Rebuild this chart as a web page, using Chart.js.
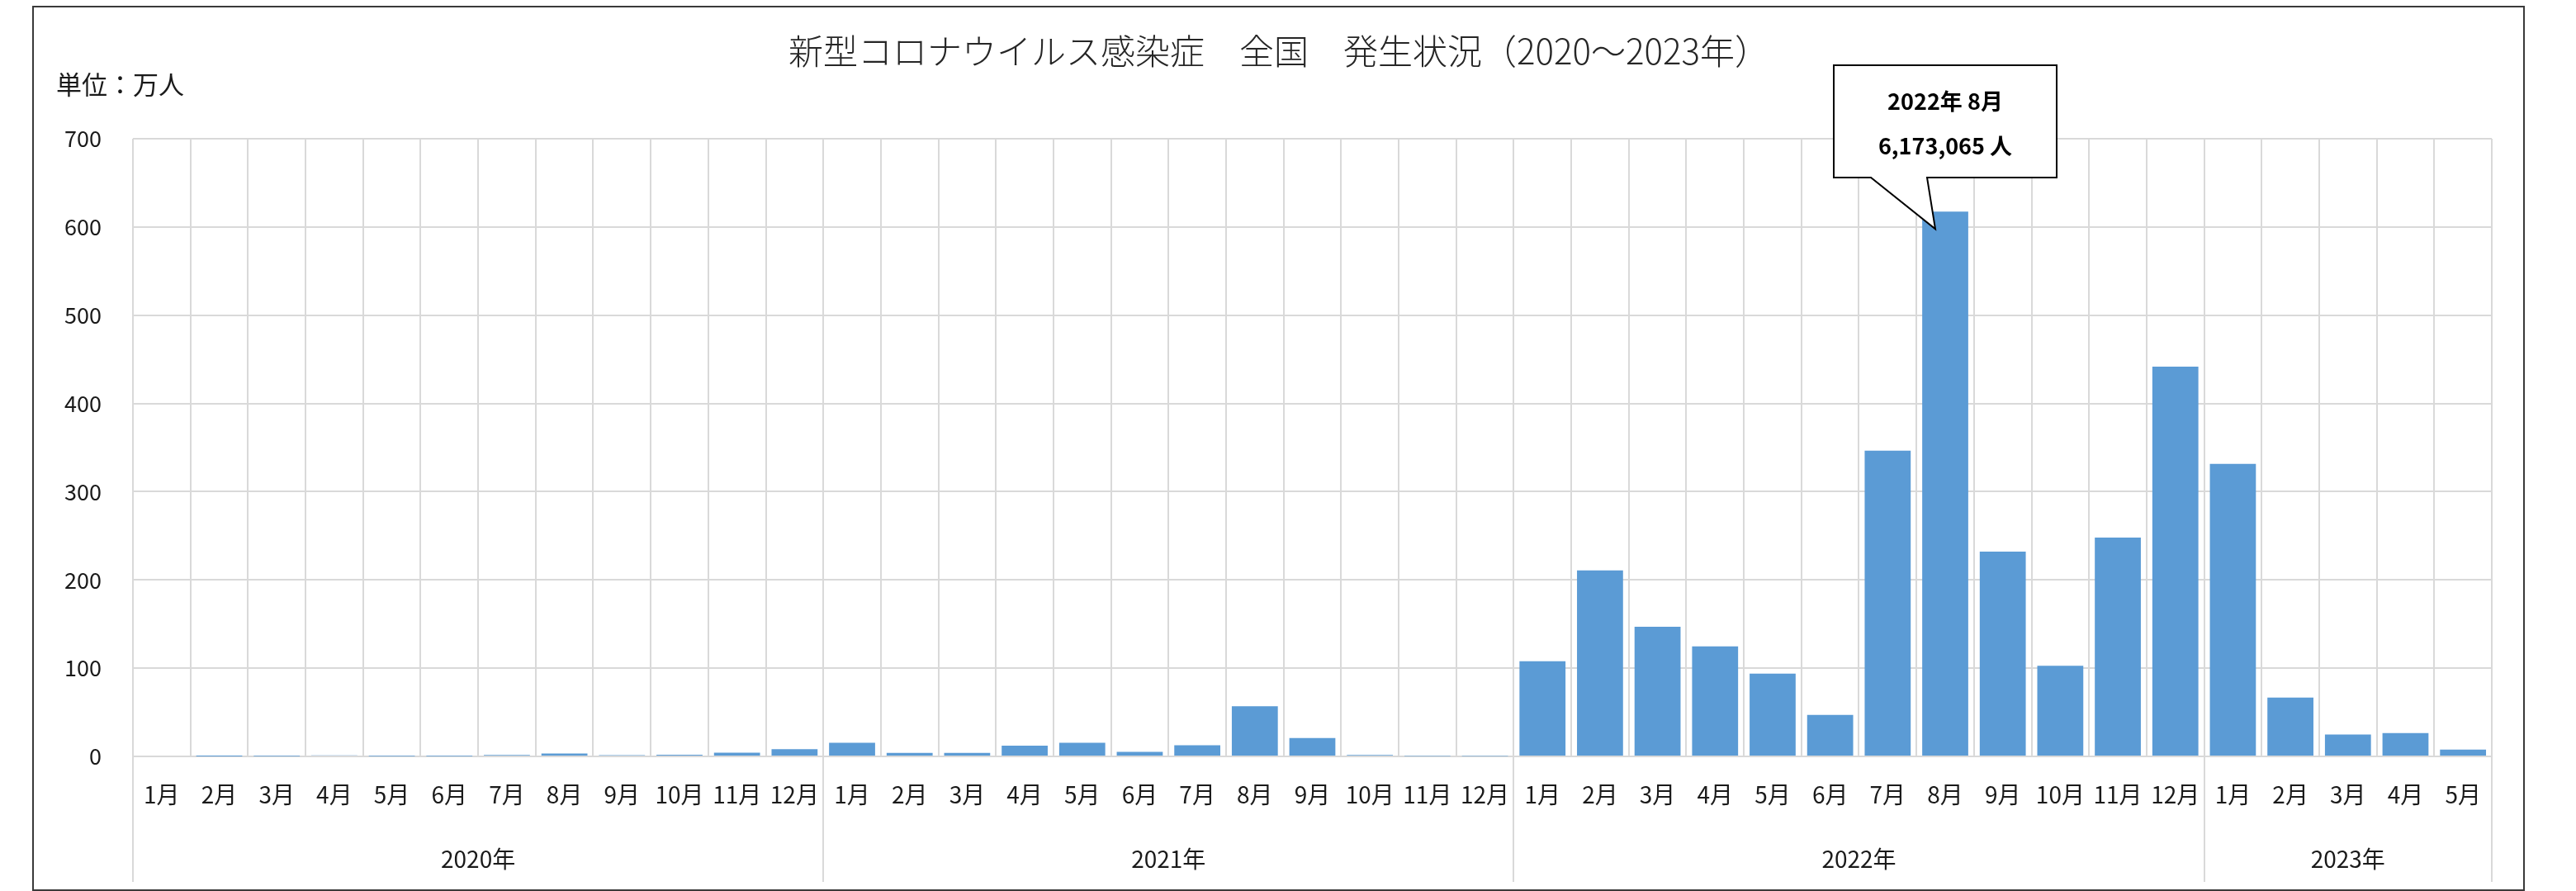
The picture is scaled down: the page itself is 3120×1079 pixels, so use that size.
<!DOCTYPE html>
<html>
<head>
<meta charset="utf-8">
<script src="https://cdn.jsdelivr.net/npm/chart.js@4.4.0/dist/chart.umd.min.js"></script>
<style>
html,body{margin:0;padding:0;background:#fff;}
#wrap{width:3120px;height:1079px;position:relative;}
canvas{display:block;}
</style>
</head>
<body>
<div id="wrap"><canvas id="c" width="3120" height="1079"></canvas></div>
<script>
// ---- data ----
const chartTitle = '新型コロナウイルス感染症　全国　発生状況（2020～2023年）';
const unitLabel = '単位：万人';
const years = ['2020年', '2021年', '2022年', '2023年'];
const months2020 = ['1月','2月','3月','4月','5月','6月','7月','8月','9月','10月','11月','12月'];
const months2021 = ['1月','2月','3月','4月','5月','6月','7月','8月','9月','10月','11月','12月'];
const months2022 = ['1月','2月','3月','4月','5月','6月','7月','8月','9月','10月','11月','12月'];
const months2023 = ['1月','2月','3月','4月','5月'];
const values2020 = [0.0, 0.02, 0.18, 1.2, 0.25, 0.17, 1.7, 3.2, 1.5, 1.8, 4.3, 8.3];
const values2021 = [15.5, 4.0, 4.0, 12.2, 15.5, 5.2, 12.7, 56.9, 20.8, 1.6, 0.4, 0.5];
const values2022 = [107.9, 210.7, 146.9, 124.7, 93.8, 47.0, 346.4, 617.3065, 232.0, 102.8, 248.1, 441.7];
const values2023 = [331.5, 66.7, 24.8, 26.4, 7.7];
const yTicks = [0, 100, 200, 300, 400, 500, 600, 700];
const calloutYear = '2022年 8月';
const calloutValue = '6,173,065 人';
const calloutIndex = 12 + 12 + 7; // 2022年8月

const monthGroups = [months2020, months2021, months2022, months2023];
const categories = [].concat(months2020, months2021, months2022, months2023);
const values = [].concat(values2020, values2021, values2022, values2023);

const FONT = '"Noto Sans CJK JP", "Noto Sans", sans-serif';
const TEXT = '#1a1a1a';
const GRID = '#d9d9d9';

const decor = {
  id: 'decor',
  beforeDraw(chart) {
    const ctx = chart.ctx;
    ctx.save();
    ctx.fillStyle = '#fff';
    ctx.fillRect(0, 0, chart.width, chart.height);
    ctx.restore();
  },
  afterDraw(chart) {
    const ctx = chart.ctx;
    const area = chart.chartArea;
    const xs = chart.scales.x;
    const step = (area.right - area.left) / categories.length;
    ctx.save();
    // outer border
    ctx.strokeStyle = '#3a3a3a';
    ctx.lineWidth = 2;
    ctx.strokeRect(40, 8, 3017, 1070);
    // title
    ctx.fillStyle = '#262626';
    ctx.font = '300 42px ' + FONT;
    ctx.textAlign = 'center';
    ctx.textBaseline = 'middle';
    ctx.fillText(chartTitle, 1549, 62);
    // unit label
    ctx.fillStyle = TEXT;
    ctx.font = '31px ' + FONT;
    ctx.textAlign = 'left';
    ctx.fillText(unitLabel, 68, 102);
    // year separators and labels
    let start = 0;
    ctx.strokeStyle = GRID;
    ctx.lineWidth = 2;
    const bounds = [0];
    monthGroups.forEach(g => { start += g.length; bounds.push(start); });
    bounds.forEach(b => {
      const x = Math.round(xs.getPixelForTick(Math.min(b, categories.length - 1)) + (b >= categories.length ? step / 2 : -step / 2));
      ctx.beginPath();
      ctx.moveTo(x, area.bottom);
      ctx.lineTo(x, area.bottom + 152);
      ctx.stroke();
    });
    ctx.fillStyle = TEXT;
    ctx.font = '28px ' + FONT;
    ctx.textAlign = 'center';
    for (let i = 0; i < years.length; i++) {
      const a = xs.getPixelForTick(bounds[i]) - step / 2;
      const b = xs.getPixelForTick(bounds[i + 1] - 1) + step / 2;
      ctx.fillText(years[i], (a + b) / 2, area.bottom + 124);
    }
    // callout
    const el = chart.getDatasetMeta(0).data[calloutIndex];
    const cx = el.x;
    const bl = cx - 135, br = cx + 135, bt = area.top - 89, bb = area.top + 47;
    ctx.beginPath();
    ctx.moveTo(bl, bt);
    ctx.lineTo(br, bt);
    ctx.lineTo(br, bb);
    ctx.lineTo(cx - 22, bb);
    ctx.lineTo(cx - 12, el.y + 21);
    ctx.lineTo(cx - 90, bb);
    ctx.lineTo(bl, bb);
    ctx.closePath();
    ctx.fillStyle = '#fff';
    ctx.fill();
    ctx.strokeStyle = '#000';
    ctx.lineWidth = 2;
    ctx.stroke();
    ctx.fillStyle = '#000';
    ctx.font = 'bold 27px ' + FONT;
    ctx.textAlign = 'center';
    ctx.fillText(calloutYear, cx, bt + 44);
    ctx.fillText(calloutValue, cx, bt + 98);
    ctx.restore();
  }
};

new Chart(document.getElementById('c'), {
  type: 'bar',
  data: {
    labels: categories,
    datasets: [{
      data: values,
      backgroundColor: '#5b9bd5',
      borderWidth: 0,
      barPercentage: 0.8,
      categoryPercentage: 1.0
    }]
  },
  options: {
    responsive: false,
    devicePixelRatio: 1,
    animation: false,
    layout: { padding: { left: 0, right: 102, top: 168, bottom: 0 } },
    plugins: { legend: { display: false }, title: { display: false }, tooltip: { enabled: false } },
    scales: {
      x: {
        grid: { color: GRID, lineWidth: 2, drawTicks: false, offset: true },
        border: { color: GRID, width: 2 },
        ticks: { color: TEXT, font: { family: FONT, size: 28 }, padding: 30, maxRotation: 0, minRotation: 0, autoSkip: false },
        afterFit(s) { s.height = 163; }
      },
      y: {
        min: 0, max: 700,
        afterBuildTicks(s) { s.ticks = yTicks.map(v => ({ value: v })); },
        grid: { color: GRID, lineWidth: 2, drawTicks: false },
        border: { display: false },
        ticks: { color: TEXT, font: { family: FONT, size: 27 }, padding: 38 },
        afterFit(s) { s.width = 161; }
      }
    }
  },
  plugins: [decor]
});
</script>
</body>
</html>
